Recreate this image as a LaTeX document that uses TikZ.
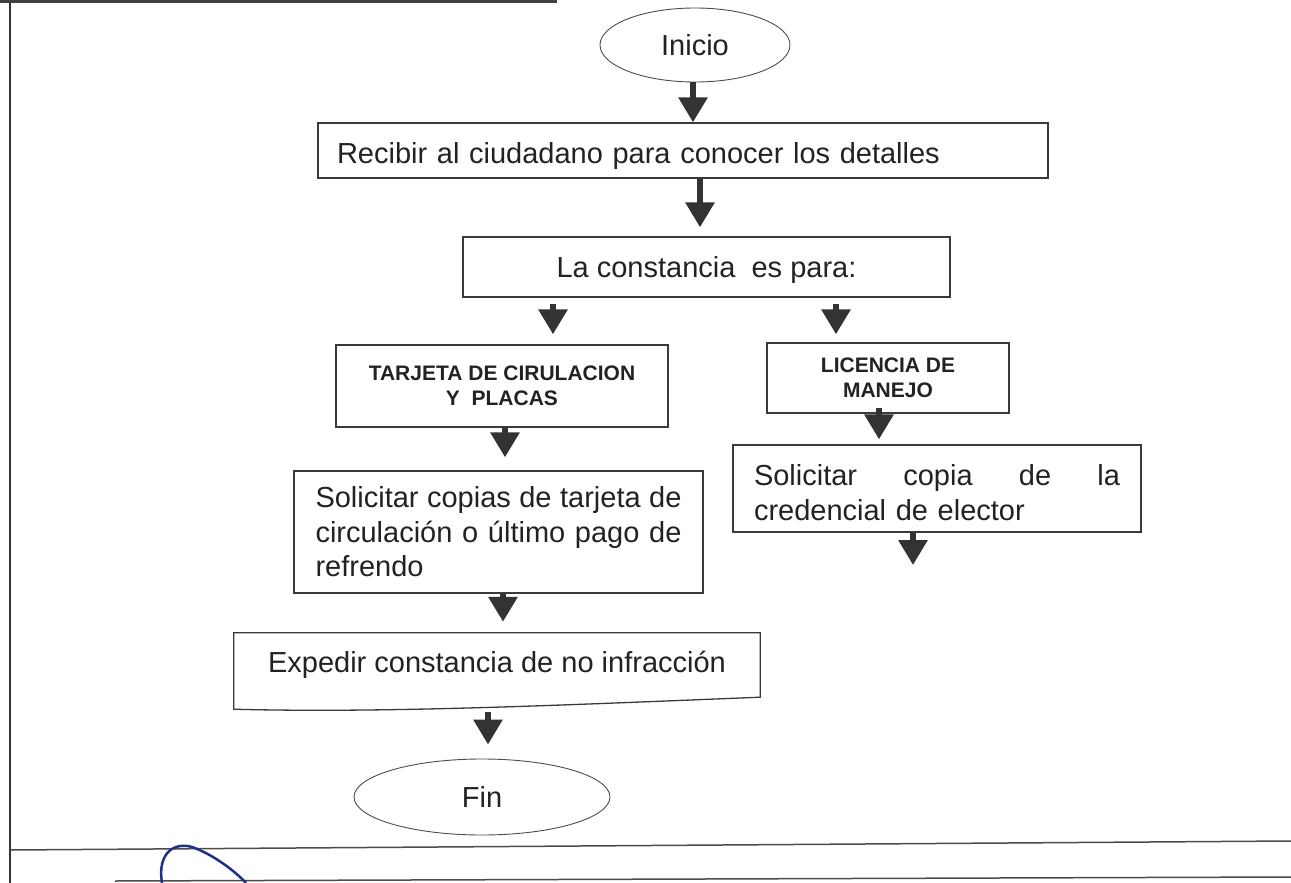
\documentclass[tikz,border=0pt]{standalone}
\usepackage{fontspec}
\setmainfont{Liberation Sans}
\usetikzlibrary{arrows.meta,calc,shapes.geometric}
\definecolor{boxc}{HTML}{3A3A3A}
\definecolor{txt}{HTML}{222222}
\definecolor{arrc}{HTML}{333333}
\definecolor{pen}{HTML}{1F2F8A}
\newcommand{\jline}[1]{\makebox[366pt]{#1}}
\begin{document}
\begin{tikzpicture}[x=1pt,y=-1pt,
  box/.style={draw=boxc, line width=1.3pt, inner sep=0pt, text=txt,
    font=\fontsize{29}{34.5}\selectfont},
  capbox/.style={box, font=\fontsize{21}{25}\selectfont\bfseries, align=center},
  term/.style={ellipse, draw=gray!60!black, line width=0.9pt, inner sep=0pt,
    text=txt, font=\fontsize{29}{34}\selectfont},
  arr/.style={line width=6pt, draw=arrc, -{Triangle[width=28pt,length=25pt]}},
  frame/.style={line width=1.5pt, draw=gray!60!black}
]
\useasboundingbox (0,0) rectangle (1291,883);

% page frame
\draw[line width=2pt, black!80] (10,0) -- (10,883);
\draw[line width=3pt, black!75] (0,1.5) -- (557,1.5);
\draw[frame] (10,850) -- (1291,841);
\draw[frame] (115,881) -- (1291,877);
\draw[line width=2.5pt, pen] (162,883) .. controls (157,852) and (175,842) .. (192,847)
  .. controls (212,854) and (234,870) .. (246,883);

% nodes
\node[term, minimum width=190pt, minimum height=74pt] (ini) at (695,45) {Inicio};
\node[box, minimum width=730pt, minimum height=55pt, text width=692pt, align=left,
  text height=25pt, text depth=0pt]
  (rec) at (683,150.5) {Recibir al ciudadano para conocer los detalles};
\node[box, minimum width=487pt, minimum height=60pt, text height=21pt, text depth=0pt]
  (con) at (706.5,267) {La constancia\ \ es para:};
\node[capbox, minimum width=332pt, minimum height=82pt] (tar) at (502,386)
  {TARJETA DE CIRULACION\\Y\ \ PLACAS};
\node[capbox, minimum width=242pt, minimum height=70pt] (lic) at (888,378)
  {LICENCIA DE\\MANEJO};
\node[box, minimum width=409pt, minimum height=122pt, text width=366pt, align=left]
  (cop) at (498.5,532)
  {\jline{Solicitar\hfill copias\hfill de\hfill tarjeta\hfill de}\\
   \jline{circulación\hfill o\hfill último\hfill pago\hfill de}\\
   refrendo};
\node[box, minimum width=408pt, minimum height=87pt, text width=366pt, align=left]
  (cred) at (937,488.5)
  {\rule{0pt}{29pt}\jline{Solicitar\hfill copia\hfill de\hfill la}\\credencial de elector};
\node[inner sep=0pt, minimum width=526pt, minimum height=64pt, text=txt,
  font=\fontsize{29}{34}\selectfont] (exp) at (497,665)
  {Expedir constancia de no infracción};
\draw[draw=boxc, line width=1.3pt] (exp.north west) -- (exp.north east) -- (exp.south east)
  .. controls ($(exp.south east)+(-200,8)$) and ($(exp.south west)+(150,16)$) ..
  ($(exp.south west)+(0,12)$) -- cycle;
\node[term, minimum width=256pt, minimum height=76pt] (fin) at (482,797) {Fin};

% column coordinates for connectors
\coordinate (c0) at (693,0);
\coordinate (c1) at (700,0);
\coordinate (c2) at (553,0);
\coordinate (c3) at (836,0);
\coordinate (c4) at (505,0);
\coordinate (c5) at (879,0);
\coordinate (c6) at (503,0);
\coordinate (c7) at (488,0);
\coordinate (e6) at (913,565);

% connectors
\draw[arr] (ini.south -| c0) -- (rec.north -| c0);
\draw[arr, shorten >=9pt] (rec.south -| c1) -- (con.north -| c1);
\draw[arr, shorten <=6pt, shorten >=10pt] (con.south -| c2) -- (tar.north -| c2);
\draw[arr, shorten <=6pt, shorten >=8pt] (con.south -| c3) -- (lic.north -| c3);
\draw[arr, shorten >=13pt] (tar.south -| c4) -- (cop.north -| c4);
\draw[arr, shorten <=-6pt, shorten >=5pt] (lic.south -| c5) -- (cred.north -| c5);
\draw[arr] (cred.south -| e6) -- (e6);
\draw[arr, shorten >=11pt] (cop.south -| c6) -- (exp.north -| c6);
\draw[arr, shorten <=15pt, shorten >=14pt] (exp.south -| c7) -- (fin.north -| c7);
\end{tikzpicture}
\end{document}
